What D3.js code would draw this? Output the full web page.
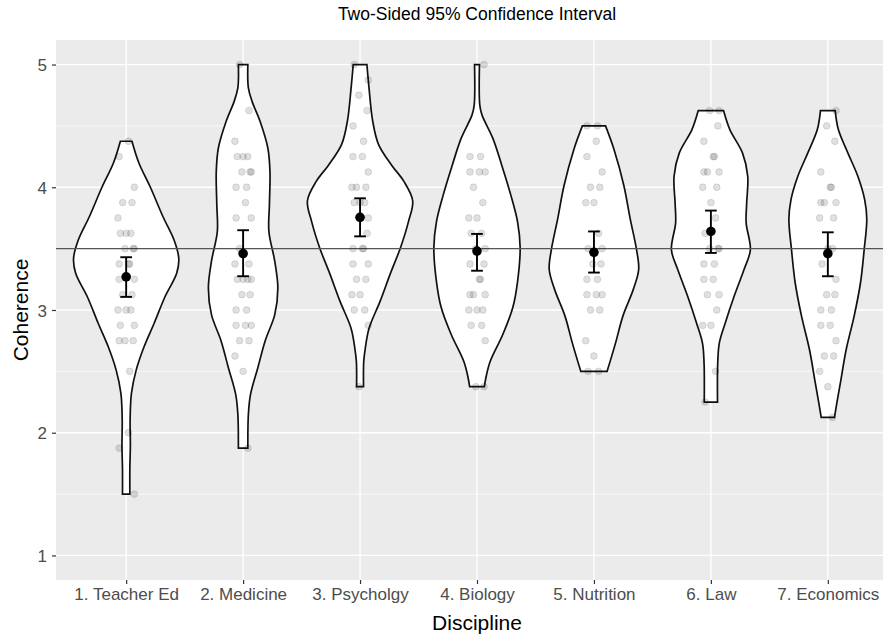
<!DOCTYPE html>
<html>
<head>
<meta charset="utf-8">
<script src="https://cdn.jsdelivr.net/npm/d3@7"></script>
<style>
  body { margin: 0; background: #fff; }
  svg { display: block; font-family: "Liberation Sans", Arial, sans-serif; }
</style>
</head>
<body>
<svg id="chart" width="883" height="635"></svg>
<script>
// categories on the x axis
const categories = ['1. Teacher Ed', '2. Medicine', '3. Psycholgy', '4. Biology', '5. Nutrition', '6. Law', '7. Economics'];

// violin outlines: [coherence, relative half width] (1 = widest violin)
const teacherEdViolin = [[1.5, 0.07], [1.7, 0.07], [1.9, 0.08], [2.1, 0.075], [2.32, 0.1], [2.51, 0.19], [2.7, 0.34], [2.89, 0.53], [3.11, 0.74], [3.3, 0.96], [3.42, 1.0], [3.57, 0.91], [3.76, 0.7], [4.0, 0.46], [4.2, 0.24], [4.375, 0.11]];
const medicineViolin = [[1.875, 0.09], [2.15, 0.1], [2.31, 0.14], [2.53, 0.28], [2.75, 0.42], [2.96, 0.6], [3.18, 0.66], [3.4, 0.6], [3.64, 0.49], [3.86, 0.5], [4.13, 0.51], [4.32, 0.47], [4.54, 0.32], [4.7, 0.17], [4.81, 0.1], [5.0, 0.09]];
const psychologyViolin = [[2.375, 0.066], [2.58, 0.07], [2.69, 0.1], [2.85, 0.17], [3.07, 0.38], [3.29, 0.57], [3.51, 0.77], [3.72, 0.92], [3.89, 1.0], [4.05, 0.83], [4.18, 0.6], [4.35, 0.35], [4.54, 0.24], [4.81, 0.17], [5.0, 0.13]];
const biologyViolin = [[2.375, 0.14], [2.45, 0.17], [2.58, 0.25], [2.8, 0.49], [3.02, 0.68], [3.23, 0.77], [3.51, 0.82], [3.72, 0.77], [3.94, 0.64], [4.18, 0.47], [4.4, 0.3], [4.59, 0.094], [4.67, 0.053], [5.0, 0.047]];
const nutritionViolin = [[2.5, 0.25], [2.73, 0.41], [2.95, 0.55], [3.17, 0.75], [3.33, 0.85], [3.49, 0.81], [3.74, 0.69], [4.01, 0.57], [4.31, 0.38], [4.5, 0.22]];
const lawViolin = [[2.25, 0.126], [2.57, 0.13], [2.73, 0.16], [2.89, 0.27], [3.11, 0.44], [3.33, 0.63], [3.49, 0.75], [3.71, 0.67], [3.87, 0.68], [4.09, 0.7], [4.28, 0.6], [4.47, 0.36], [4.625, 0.24]];
const economicsViolin = [[2.125, 0.126], [2.24, 0.17], [2.41, 0.24], [2.68, 0.35], [2.95, 0.5], [3.22, 0.62], [3.49, 0.69], [3.74, 0.74], [3.9, 0.7], [4.09, 0.57], [4.28, 0.38], [4.47, 0.2], [4.625, 0.14]];

// individual responses
const teacherEdPoints = [4.375, 4.25, 4.0, 3.875, 3.875, 3.75, 3.625, 3.625, 3.625, 3.5, 3.5, 3.5, 3.375, 3.375, 3.375, 3.25, 3.25, 3.125, 3.125, 3.0, 3.0, 3.0, 2.875, 2.875, 2.75, 2.75, 2.75, 2.5, 2.0, 1.875, 1.5];
const medicinePoints = [5.0, 4.625, 4.375, 4.25, 4.25, 4.25, 4.125, 4.125, 4.125, 4.0, 4.0, 3.875, 3.75, 3.75, 3.5, 3.375, 3.375, 3.25, 3.25, 3.25, 3.25, 3.125, 3.125, 3.0, 3.0, 2.875, 2.875, 2.875, 2.75, 2.75, 2.625, 2.5, 1.875];
const psychologyPoints = [5.0, 4.875, 4.75, 4.625, 4.5, 4.375, 4.25, 4.25, 4.125, 4.0, 4.0, 4.0, 3.875, 3.875, 3.875, 3.75, 3.75, 3.625, 3.5, 3.5, 3.5, 3.375, 3.375, 3.25, 3.25, 3.125, 3.125, 3.0, 3.0, 2.875, 2.375];
const biologyPoints = [5.0, 4.25, 4.25, 4.125, 4.125, 4.125, 4.0, 3.875, 3.75, 3.75, 3.625, 3.625, 3.5, 3.5, 3.375, 3.375, 3.25, 3.25, 3.125, 3.125, 3.125, 3.0, 3.0, 3.0, 2.875, 2.875, 2.75, 2.375, 2.375];
const nutritionPoints = [4.5, 4.5, 4.375, 4.25, 4.125, 4.0, 4.0, 3.875, 3.875, 3.625, 3.5, 3.5, 3.375, 3.375, 3.25, 3.25, 3.125, 3.125, 3.125, 3.0, 3.0, 2.75, 2.625, 2.5, 2.5];
const lawPoints = [4.625, 4.625, 4.5, 4.375, 4.25, 4.25, 4.125, 4.125, 4.125, 4.0, 4.0, 3.875, 3.75, 3.625, 3.5, 3.5, 3.5, 3.375, 3.375, 3.25, 3.25, 3.125, 3.125, 3.0, 2.875, 2.875, 2.5, 2.25];
const economicsPoints = [4.625, 4.5, 4.375, 4.125, 4.0, 4.0, 3.875, 3.875, 3.875, 3.75, 3.75, 3.5, 3.5, 3.375, 3.25, 3.125, 3.125, 3.0, 3.0, 2.875, 2.875, 2.75, 2.625, 2.625, 2.5, 2.375, 2.125];

// mean and two-sided 95% confidence interval
const means = [3.27, 3.46, 3.755, 3.48, 3.47, 3.64, 3.46];
const ciLow = [3.107, 3.275, 3.6, 3.32, 3.305, 3.465, 3.275];
const ciHigh = [3.43, 3.65, 3.91, 3.62, 3.64, 3.81, 3.633];

const yTicks = [1, 2, 3, 4, 5];
const yMinor = [1.5, 2.5, 3.5, 4.5];
const refLine = 3.5;

// fixed horizontal spread of the dots, in category widths
const jitterPattern = [0.02, -0.06, 0.07, -0.03, 0.05, -0.07, 0.0, 0.04, -0.05, 0.07, -0.01, 0.06, -0.06, 0.03];

const violins = [teacherEdViolin, medicineViolin, psychologyViolin, biologyViolin, nutritionViolin, lawViolin, economicsViolin];
const pointSets = [teacherEdPoints, medicinePoints, psychologyPoints, biologyPoints, nutritionPoints, lawPoints, economicsPoints];

const svg = d3.select('#chart');
const panel = { left: 56, right: 898, top: 40, bottom: 580 };

const x = d3.scalePoint()
  .domain(categories)
  .range([panel.left, panel.right])
  .padding(0.6);

const y = d3.scaleLinear()
  .domain([0.8, 5.2])
  .range([panel.bottom, panel.top]);

const halfWidth = d3.scaleLinear()
  .domain([0, 1])
  .range([0, 0.45 * x.step()]);

// panel background and grid
svg.append('rect')
  .attr('x', panel.left)
  .attr('y', panel.top)
  .attr('width', panel.right - panel.left)
  .attr('height', panel.bottom - panel.top)
  .attr('fill', '#ebebeb');

const grid = svg.append('g').attr('class', 'grid');
grid.selectAll('.minor')
  .data(yMinor)
  .enter().append('line')
  .attr('x1', panel.left).attr('x2', panel.right)
  .attr('y1', d => y(d)).attr('y2', d => y(d))
  .attr('stroke', '#fff').attr('stroke-width', 0.6);
grid.selectAll('.major')
  .data(yTicks)
  .enter().append('line')
  .attr('x1', panel.left).attr('x2', panel.right)
  .attr('y1', d => y(d)).attr('y2', d => y(d))
  .attr('stroke', '#fff').attr('stroke-width', 1.3);
grid.selectAll('.vmajor')
  .data(categories)
  .enter().append('line')
  .attr('x1', d => x(d)).attr('x2', d => x(d))
  .attr('y1', panel.top).attr('y2', panel.bottom)
  .attr('stroke', '#fff').attr('stroke-width', 1.3);

// violins
const violinArea = cx => d3.area()
  .y(d => y(d[0]))
  .x0(d => cx - halfWidth(d[1]))
  .x1(d => cx + halfWidth(d[1]))
  .curve(d3.curveCatmullRom.alpha(0.5));

svg.append('g')
  .attr('class', 'violins')
  .selectAll('path')
  .data(violins)
  .enter().append('path')
  .attr('d', (d, i) => violinArea(x(categories[i]))(d))
  .attr('fill', '#fff')
  .attr('stroke', '#111')
  .attr('stroke-width', 1.7);

// reference line
svg.append('line')
  .attr('x1', panel.left).attr('x2', panel.right)
  .attr('y1', y(refLine)).attr('y2', y(refLine))
  .attr('stroke', '#555')
  .attr('stroke-width', 1.2);

// jittered responses
const dots = [];
let k = 0;
pointSets.forEach(function(values, i) {
  values.forEach(function(v) {
    dots.push({ cat: categories[i], v: v, dx: jitterPattern[k % jitterPattern.length] });
    k += 1;
  });
});

svg.append('g')
  .attr('class', 'dots')
  .selectAll('circle')
  .data(dots)
  .enter().append('circle')
  .attr('cx', d => x(d.cat) + d.dx * x.step())
  .attr('cy', d => y(d.v))
  .attr('r', 3.4)
  .attr('fill', '#000')
  .attr('fill-opacity', 0.12)
  .attr('stroke', '#000')
  .attr('stroke-opacity', 0.1)
  .attr('stroke-width', 1);

// error bars and means
const capHalf = 0.05 * x.step();
const bars = svg.append('g')
  .attr('class', 'errorbars')
  .selectAll('g')
  .data(categories)
  .enter().append('g');

bars.append('line')
  .attr('x1', d => x(d)).attr('x2', d => x(d))
  .attr('y1', (d, i) => y(ciLow[i])).attr('y2', (d, i) => y(ciHigh[i]));
bars.append('line')
  .attr('x1', d => x(d) - capHalf).attr('x2', d => x(d) + capHalf)
  .attr('y1', (d, i) => y(ciLow[i])).attr('y2', (d, i) => y(ciLow[i]));
bars.append('line')
  .attr('x1', d => x(d) - capHalf).attr('x2', d => x(d) + capHalf)
  .attr('y1', (d, i) => y(ciHigh[i])).attr('y2', (d, i) => y(ciHigh[i]));
bars.selectAll('line')
  .attr('stroke', '#000')
  .attr('stroke-width', 1.9);

bars.append('circle')
  .attr('cx', d => x(d))
  .attr('cy', (d, i) => y(means[i]))
  .attr('r', 4.8)
  .attr('fill', '#000');

// axes
const xAxis = svg.append('g')
  .attr('transform', `translate(0,${panel.bottom})`)
  .call(d3.axisBottom(x).tickSize(4).tickPadding(4));
const yAxis = svg.append('g')
  .attr('transform', `translate(${panel.left},0)`)
  .call(d3.axisLeft(y).tickValues(yTicks).tickFormat(d3.format('d')).tickSize(4).tickPadding(5));

[xAxis, yAxis].forEach(function(axis) {
  axis.select('.domain').remove();
  axis.selectAll('.tick line').attr('stroke', '#333').attr('stroke-width', 1.2);
  axis.selectAll('.tick text')
    .attr('fill', '#4d4d4d')
    .style('font-size', '17px')
    .style('font-family', '"Liberation Sans", Arial, sans-serif');
});
yAxis.selectAll('.tick text').attr('dy', '0.36em');

// titles
svg.append('text')
  .attr('x', (panel.left + panel.right) / 2)
  .attr('y', 20)
  .attr('text-anchor', 'middle')
  .style('font-size', '17.5px')
  .text('Two-Sided 95% Confidence Interval');

svg.append('text')
  .attr('x', (panel.left + panel.right) / 2)
  .attr('y', 630)
  .attr('text-anchor', 'middle')
  .style('font-size', '21px')
  .text('Discipline');

svg.append('text')
  .attr('transform', `translate(28,${(panel.top + panel.bottom) / 2}) rotate(-90)`)
  .attr('text-anchor', 'middle')
  .style('font-size', '21px')
  .text('Coherence');
</script>
</body>
</html>
